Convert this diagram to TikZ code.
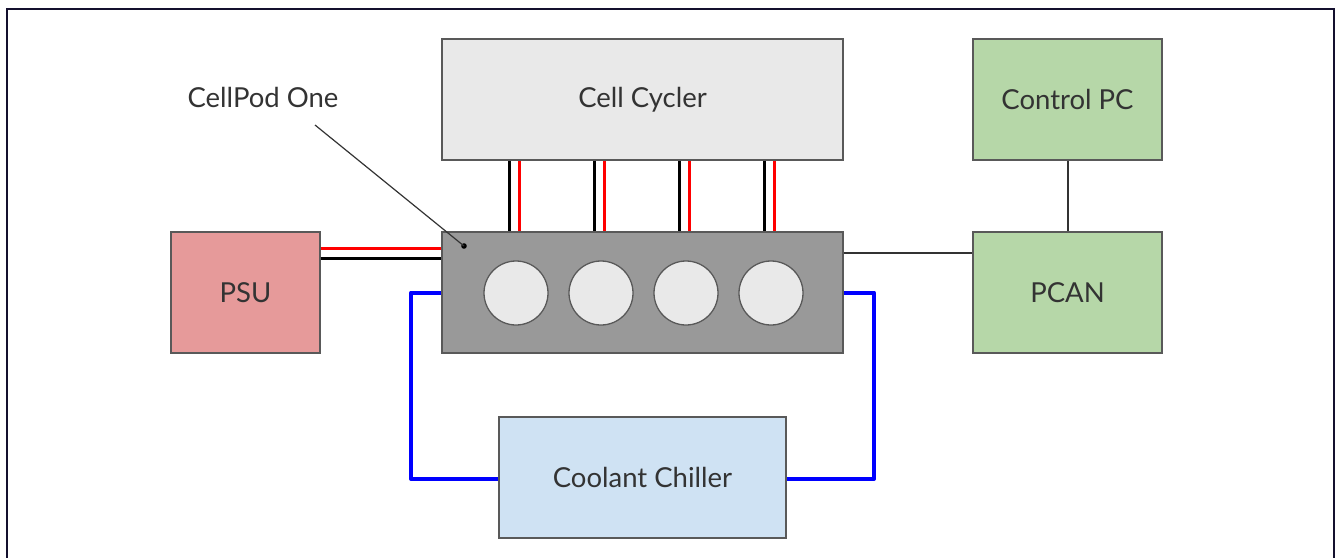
\documentclass[tikz,border=0pt]{standalone}
\usepackage{fontspec}
\setmainfont{Lato}
\usetikzlibrary{calc}
\definecolor{boxline}{HTML}{595959}
\definecolor{cycfill}{HTML}{E9E9E9}
\definecolor{grnfill}{HTML}{B6D7A8}
\definecolor{psufill}{HTML}{E69A9A}
\definecolor{podfill}{HTML}{999999}
\definecolor{chlfill}{HTML}{CFE2F3}
\definecolor{txt}{HTML}{333333}
\definecolor{frame}{HTML}{14102E}
\tikzset{
  lblfont/.style={font=\fontsize{27.5}{32}\selectfont, text=txt},
  blk/.style={draw=boxline, line width=1.3pt, inner sep=0pt, lblfont},
  cellc/.style={circle, draw=boxline, line width=1.3pt, fill=cycfill, minimum size=64pt, inner sep=0pt},
  wireblack/.style={line width=3pt, black},
  wirered/.style={line width=3pt, red},
  coolant/.style={line width=4pt, blue!100, line join=round},
  signal/.style={line width=2pt, txt},
}
\begin{document}
\begin{tikzpicture}[x=1pt,y=-1pt]
\useasboundingbox (0,0) rectangle (1336,557);
\draw[frame, line width=2.5pt] (7,560) -- (7,9) -- (1334,9) -- (1334,560);
% boxes
\node[blk, fill=cycfill, minimum width=401pt, minimum height=121pt] (cyc) at (642.5,99.5) {Cell Cycler};
\node[blk, fill=grnfill, minimum width=189pt, minimum height=121pt] (ctl) at (1067.5,99.5) {Control PC};
\node[blk, fill=psufill, minimum width=149pt, minimum height=121pt] (psu) at (245.5,292.5) {PSU};
\node[blk, fill=podfill, minimum width=401pt, minimum height=121pt] (pod) at (642.5,292.5) {};
\node[blk, fill=grnfill, minimum width=189pt, minimum height=121pt] (pcan) at (1067.5,292.5) {PCAN};
\node[blk, fill=chlfill, minimum width=287pt, minimum height=121pt] (chl) at (642.5,477.5) {Coolant Chiller};
% cells
\node[cellc] (c1) at (516,293) {};
\node[cellc] (c2) at (601,293) {};
\node[cellc] (c3) at (686,293) {};
\node[cellc] (c4) at (771,293) {};
% cycler wires
\foreach \c in {c1,c2,c3,c4}{
  \draw[wireblack] ($(cyc.south -| \c)+(-7,0)$) -- ($(pod.north -| \c)+(-7,0)$);
  \draw[wirered] ($(cyc.south -| \c)+(3,0)$) -- ($(pod.north -| \c)+(3,0)$);
}
% psu wires
\coordinate (rw) at (0,248);
\coordinate (bw) at (0,258);
\draw[wirered] (psu.east |- rw) -- (pod.west |- rw);
\draw[wireblack] (psu.east |- bw) -- (pod.west |- bw);
% coolant loop
\coordinate (bl) at (411,479);
\coordinate (br) at (874,479);
\draw[coolant] (pod.west) -| (bl) -- (chl.west |- bl);
\draw[coolant] (pod.east) -| (br) -- (chl.east |- br);
% signal lines
\coordinate (sl) at (0,253);
\draw[signal] (pod.east |- sl) -- (pcan.west |- sl);
\draw[signal] (ctl.south) -- (pcan.north);
% label
\node[lblfont, inner sep=0pt] (lbl) at (263,97) {CellPod One};
\coordinate (ls) at (315,125);
\fill[black] (464,246) circle (2.8pt) coordinate (dot);
\draw[line width=1.2pt, txt] (ls) -- (dot);
\end{tikzpicture}
\end{document}
